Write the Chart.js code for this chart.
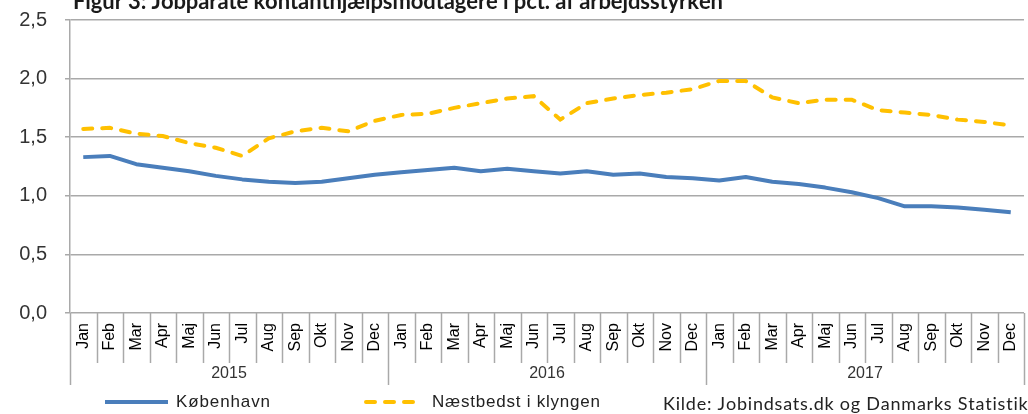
<!DOCTYPE html>
<html>
<head>
<meta charset="utf-8">
<script src="https://cdn.jsdelivr.net/npm/chart.js@4/dist/chart.umd.min.js"></script>
<style>
html,body{margin:0;padding:0;background:#fff;}
#wrap{width:1028px;height:414px;position:relative;}
</style>
</head>
<body>
<div id="wrap"><canvas id="c" width="1028" height="414"></canvas></div>
<script>
const months = ["Jan","Feb","Mar","Apr","Maj","Jun","Jul","Aug","Sep","Okt","Nov","Dec"];
const years = ["2015","2016","2017"];
const categories = years.flatMap(y => months.map(m => m));

const kobenhavn = [
  1.33,1.34,1.27,1.24,1.21,1.17,1.14,1.12,1.11,1.12,1.15,1.18,
  1.20,1.22,1.24,1.21,1.23,1.21,1.19,1.21,1.18,1.19,1.16,1.15,
  1.13,1.16,1.12,1.10,1.07,1.03,0.98,0.91,0.91,0.90,0.88,0.86
];
const naestbedst = [
  1.57,1.58,1.53,1.51,1.45,1.41,1.34,1.49,1.55,1.58,1.55,1.64,
  1.69,1.70,1.75,1.79,1.83,1.85,1.65,1.79,1.83,1.86,1.88,1.91,
  1.98,1.98,1.84,1.79,1.82,1.82,1.73,1.71,1.69,1.65,1.63,1.60
];
const yTicks = [0,0.5,1.0,1.5,2.0,2.5];

const titleText = "Figur 3: Jobparate kontanthjælpsmodtagere i pct. af arbejdsstyrken";
const sourceText = "Kilde: Jobindsats.dk og Danmarks Statistik";
const seriesNames = ["København","Næstbedst i klyngen"];

const BLUE = "#4a7ebb";
const YELLOW = "#ffc000";
const GRID = "#a9a9a9";

function spacedText(ctx, text, x, y, targetWidth) {
  const natural = ctx.measureText(text).width;
  const n = text.length;
  const extra = n > 1 ? (targetWidth - natural) / (n - 1) : 0;
  let cx = x;
  for (let i = 0; i < n; i++) {
    const ch = text[i];
    ctx.fillText(ch, cx, y);
    cx += ctx.measureText(ch).width + extra;
  }
}

const decor = {
  id: "decor",
  afterDraw(chart) {
    const ctx = chart.ctx;
    const xs = chart.scales.x;
    const area = chart.chartArea;
    ctx.save();
    ctx.strokeStyle = GRID;
    ctx.lineWidth = 1.5;
    for (let i = 0; i <= categories.length; i++) {
      const px = Math.round(xs.getPixelForValue(i - 0.5)) + 0.5;
      const isYear = i % 12 === 0;
      ctx.beginPath();
      ctx.moveTo(px, area.bottom);
      ctx.lineTo(px, isYear ? 385 : 363);
      ctx.stroke();
    }
    ctx.fillStyle = "#333";
    ctx.font = "16px 'Liberation Sans', Arial, sans-serif";
    ctx.textAlign = "center";
    ctx.textBaseline = "middle";
    years.forEach((y, k) => {
      const a = xs.getPixelForValue(k * 12 - 0.5);
      const b = xs.getPixelForValue(k * 12 + 11.5);
      ctx.fillText(y, (a + b) / 2, 374);
    });
    ctx.fillStyle = "#1a1a1a";
    ctx.font = "bold 22px Lato, 'Open Sans', sans-serif";
    ctx.textAlign = "left";
    ctx.textBaseline = "alphabetic";
    spacedText(ctx, titleText, 73, 9, 647);
    const ly = 402;
    ctx.lineWidth = 4;
    ctx.strokeStyle = BLUE;
    ctx.setLineDash([]);
    ctx.beginPath(); ctx.moveTo(105, ly); ctx.lineTo(168, ly); ctx.stroke();
    ctx.strokeStyle = YELLOW;
    ctx.lineCap = "round";
    ctx.setLineDash([9, 10]);
    ctx.beginPath(); ctx.moveTo(366, ly); ctx.lineTo(420, ly); ctx.stroke();
    ctx.setLineDash([]);
    ctx.fillStyle = "#222";
    ctx.font = "17px 'Liberation Sans', Arial, sans-serif";
    ctx.textBaseline = "middle";
    spacedText(ctx, seriesNames[0], 176, ly, 94);
    spacedText(ctx, seriesNames[1], 432, ly, 168);
    ctx.font = "18px Lato, 'Open Sans', sans-serif";
    spacedText(ctx, sourceText, 663, ly + 2, 364);
    ctx.restore();
  }
};

new Chart(document.getElementById("c"), {
  type: "line",
  data: {
    labels: categories,
    datasets: [
      {
        label: seriesNames[0],
        data: kobenhavn,
        borderColor: BLUE,
        borderWidth: 4,
        pointRadius: 0,
        tension: 0,
        borderJoinStyle: "round"
      },
      {
        label: seriesNames[1],
        data: naestbedst,
        borderColor: YELLOW,
        borderWidth: 4,
        borderDash: [9, 10],
        borderCapStyle: "round",
        pointRadius: 0,
        tension: 0
      }
    ]
  },
  options: {
    responsive: false,
    animation: false,
    devicePixelRatio: 1,
    layout: { padding: { top: 20, right: 4, left: 0, bottom: 0 } },
    plugins: { legend: { display: false }, tooltip: { enabled: false }, title: { display: false } },
    scales: {
      x: {
        type: "category",
        offset: true,
        grid: { display: false, drawOnChartArea: false, drawTicks: false },
        border: { display: false },
        ticks: {
          autoSkip: false,
          minRotation: 90,
          maxRotation: 90,
          padding: 10,
          color: "#000",
          font: { family: "'Liberation Sans', Arial, sans-serif", size: 16 }
        },
        afterFit(scale) { scale.height = 101; scale.paddingLeft = 0; scale.paddingRight = 0; }
      },
      y: {
        min: 0,
        max: 2.5,
        afterBuildTicks(scale) { scale.ticks = yTicks.map(v => ({ value: v })); },
        grid: { color: GRID, lineWidth: 1.5, tickLength: 5, drawTicks: true },
        border: { display: true, color: GRID, width: 1.5 },
        ticks: {
          padding: 18,
          color: "#333",
          font: { family: "'Liberation Sans', Arial, sans-serif", size: 20 },
          callback: v => Number(v).toFixed(1).replace(".", ",")
        },
        afterFit(scale) { scale.width = 70; scale.paddingTop = 0; scale.paddingBottom = 0; }
      }
    }
  },
  plugins: [decor]
});
</script>
</body>
</html>
